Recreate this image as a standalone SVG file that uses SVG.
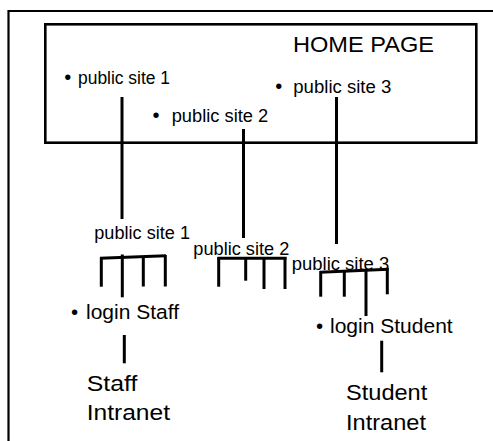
<svg xmlns="http://www.w3.org/2000/svg" width="493" height="441" viewBox="0 0 493 441">
<style>
.t{font-family:"Liberation Sans",Arial,sans-serif;fill:#000}
.s{font-size:17.5px}
.m{font-size:20.5px}
.l{font-size:21.5px}
.h{font-size:22px}
.b{font-size:20px}
.c{stroke:#000;stroke-width:3;fill:none;stroke-linecap:butt}
</style>
<rect width="493" height="441" fill="#fff"/>
<g id="frame">
<path d="M8.5 441 V11 H493" fill="none" stroke="#000" stroke-width="2.2"/>
</g>
<g id="home">
<rect x="45.3" y="24.3" width="431" height="118.4" fill="none" stroke="#000" stroke-width="2.6"/>
<text class="t h" x="293" y="52.3" textLength="141" lengthAdjust="spacingAndGlyphs">HOME PAGE</text>
<text class="t s" y="84"><tspan class="b" x="64.2">•</tspan><tspan x="78" textLength="92" lengthAdjust="spacingAndGlyphs">public site 1</tspan></text>
<text class="t s" y="122"><tspan class="b" x="152.5">•</tspan><tspan x="171.7" textLength="96.5" lengthAdjust="spacingAndGlyphs">public site 2</tspan></text>
<text class="t s" y="92.5"><tspan class="b" x="275.2">•</tspan><tspan x="293.3" textLength="98" lengthAdjust="spacingAndGlyphs">public site 3</tspan></text>
</g>
<g id="site1">
<text class="t s" x="94.3" y="239.3" textLength="95.7" lengthAdjust="spacingAndGlyphs">public site 1</text>
</g>
<g id="site2">
<text class="t s" x="193.3" y="255" textLength="96" lengthAdjust="spacingAndGlyphs">public site 2</text>
</g>
<g id="site3">
<text class="t s" x="291.7" y="270" textLength="97.6" lengthAdjust="spacingAndGlyphs">public site 3</text>
</g>
<g id="loginStaff">
<text class="t m" y="319.3"><tspan x="71">•</tspan><tspan x="86" textLength="93" lengthAdjust="spacingAndGlyphs">login Staff</tspan></text>
</g>
<g id="loginStudent">
<text class="t m" y="333.3"><tspan x="316">•</tspan><tspan x="330" textLength="122.7" lengthAdjust="spacingAndGlyphs">login Student</tspan></text>
</g>
<g id="staffIntranet">
<text class="t l" x="86.7" y="391" textLength="50.6" lengthAdjust="spacingAndGlyphs">Staff</text>
<text class="t l" x="86.7" y="420" textLength="83.3" lengthAdjust="spacingAndGlyphs">Intranet</text>
</g>
<g id="studentIntranet">
<text class="t l" x="346" y="400" textLength="81.3" lengthAdjust="spacingAndGlyphs">Student</text>
<text class="t l" x="346" y="430" textLength="80" lengthAdjust="spacingAndGlyphs">Intranet</text>
</g>
<g id="connectors">
<line class="c" x1="122" y1="97" x2="122" y2="219"/>
<line class="c" x1="243.5" y1="129" x2="243.5" y2="238"/>
<line class="c" x1="336.5" y1="97" x2="336.5" y2="244"/>
<path class="c" d="M100 258.3 L166 255.7"/>
<line class="c" x1="101.3" y1="257.5" x2="101.3" y2="286.7"/>
<line class="c" x1="122.3" y1="254.5" x2="122.3" y2="297.3"/>
<line class="c" x1="143.3" y1="256" x2="143.3" y2="286.5"/>
<line class="c" x1="165.3" y1="255" x2="165.3" y2="286.5"/>
<path class="c" d="M217.5 258.3 L286.5 258.3"/>
<line class="c" x1="218.7" y1="257" x2="218.7" y2="286.7"/>
<line class="c" x1="245.7" y1="257" x2="245.7" y2="280.7"/>
<line class="c" x1="264" y1="257" x2="264" y2="289"/>
<line class="c" x1="285" y1="257" x2="285" y2="289"/>
<path class="c" d="M320 272.3 L388.5 269.3"/>
<line class="c" x1="320.7" y1="271" x2="320.7" y2="296.7"/>
<line class="c" x1="344.3" y1="271" x2="344.3" y2="296.7"/>
<line class="c" x1="366" y1="270" x2="366" y2="316"/>
<line class="c" x1="387.3" y1="268" x2="387.3" y2="294.3"/>
<line class="c" x1="124.3" y1="335" x2="124.3" y2="363.3"/>
<line class="c" x1="381.7" y1="340.7" x2="381.7" y2="372.3"/>
</g>
</svg>
